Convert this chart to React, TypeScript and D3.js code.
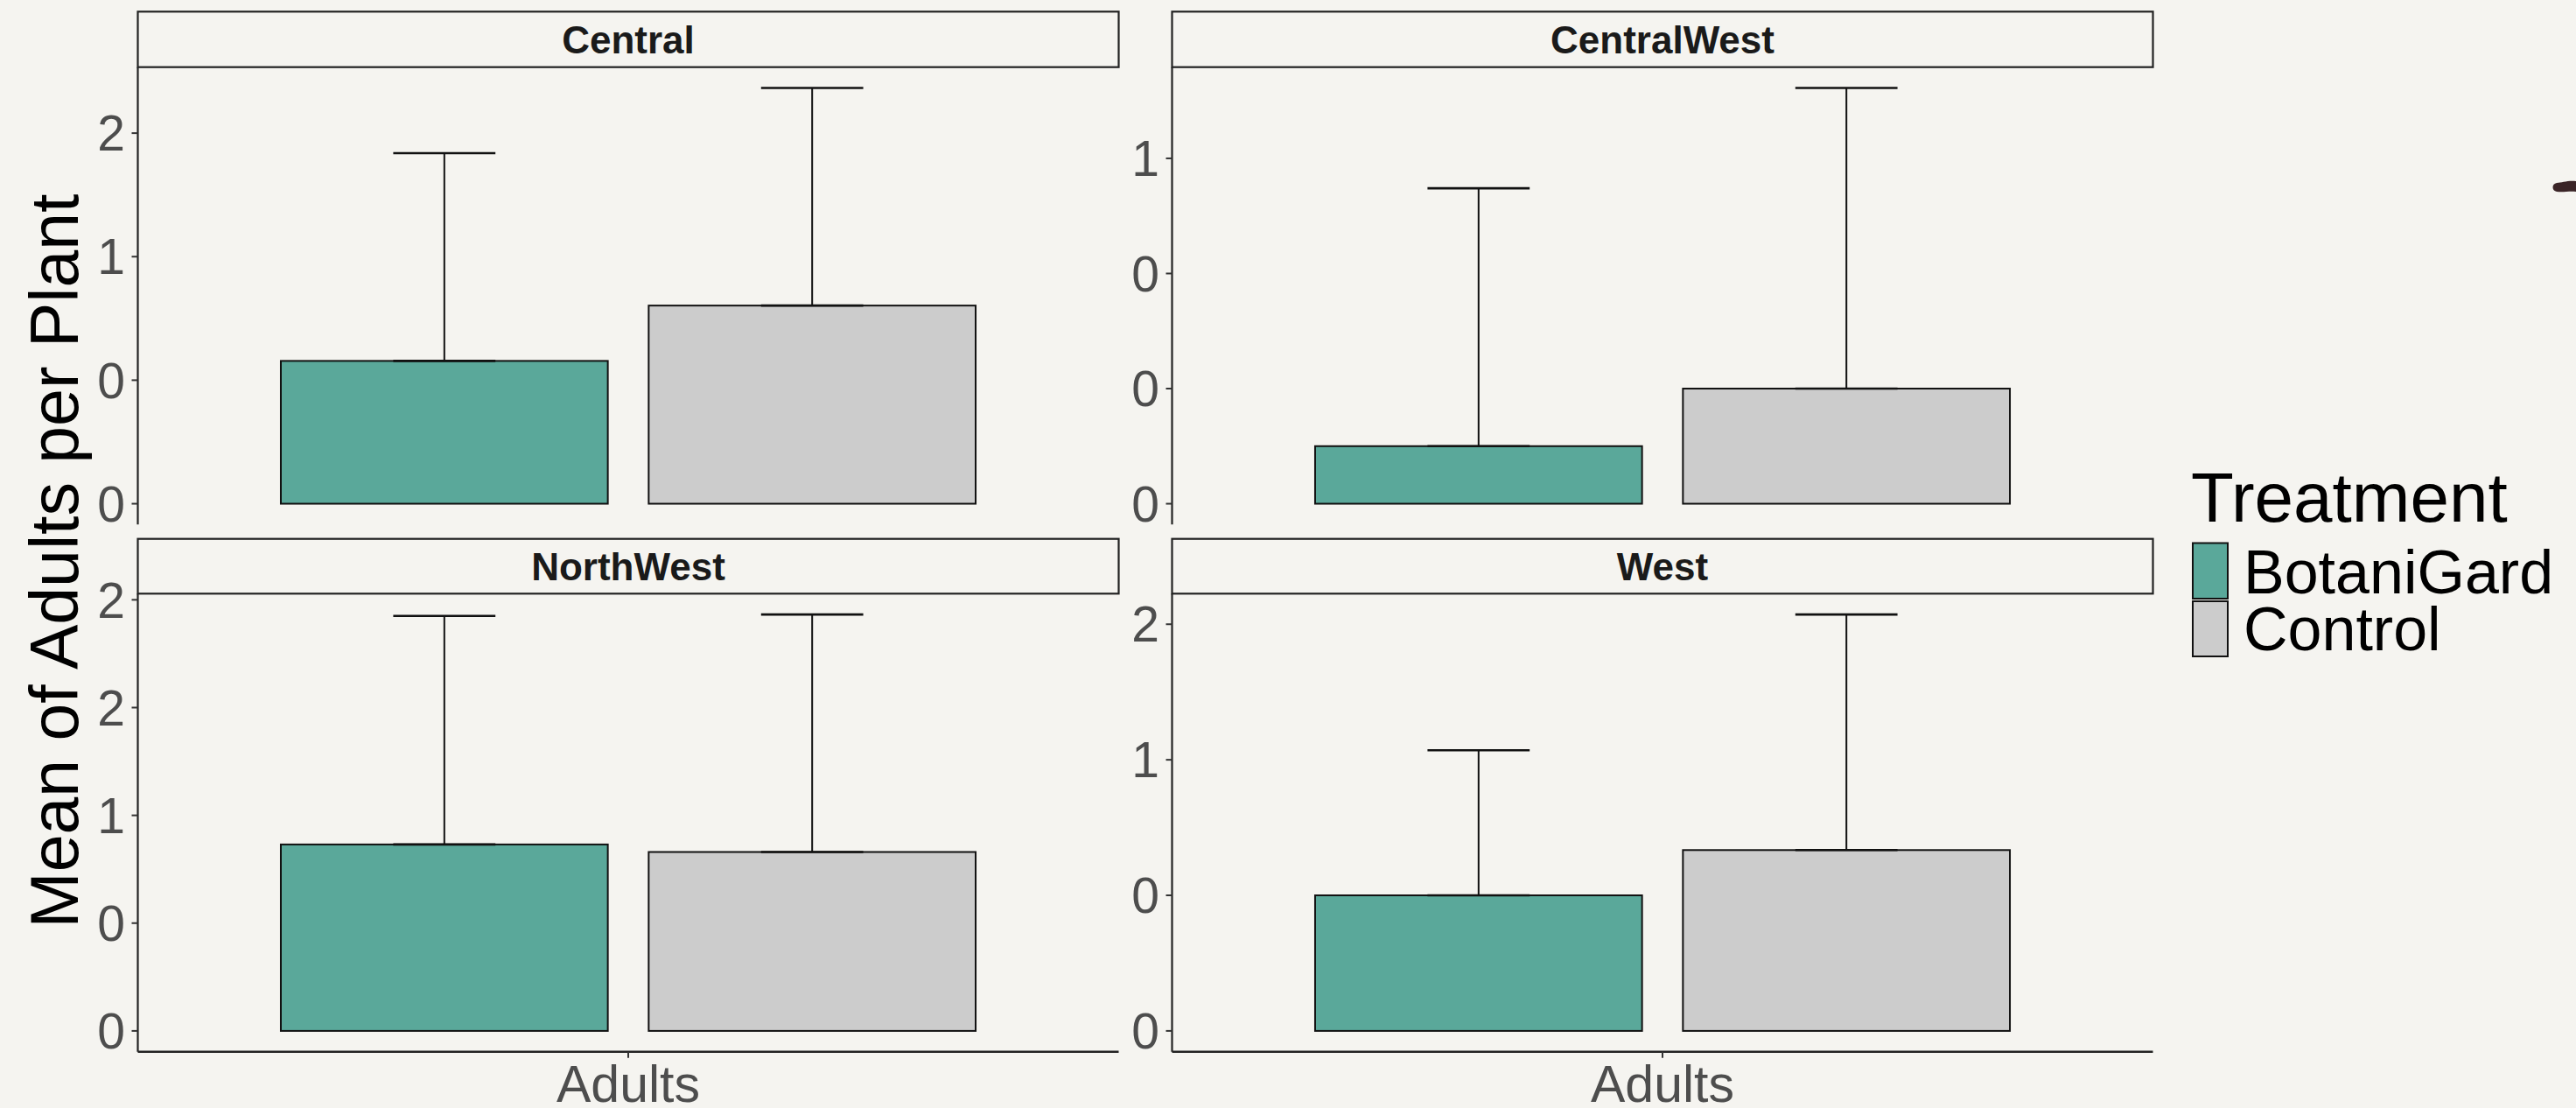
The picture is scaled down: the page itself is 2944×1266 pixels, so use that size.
import React from "react";
import * as d3 from "d3";

// Facet data: mean adults per plant (bar) and upper error limit per region
const regions = ["Central", "CentralWest", "NorthWest", "West"];
const treatments = ["BotaniGard", "Control"];
const meanBotaniGard = [0.578, 0.125, 0.865, 0.5];
const meanControl = [0.802, 0.25, 0.83, 0.667];
const upperBotaniGard = [1.419, 0.685, 1.925, 1.035];
const upperControl = [1.683, 0.903, 1.932, 1.536];
const xCategory = "Adults";

// Free y scales per facet
const yTickValues = [
  [0, 0.5, 1, 1.5],
  [0, 0.25, 0.5, 0.75],
  [0, 0.5, 1, 1.5, 2],
  [0, 0.5, 1, 1.5],
];
const yTickLabels = [
  ["0", "0", "1", "2"],
  ["0", "0", "0", "1"],
  ["0", "0", "1", "2", "2"],
  ["0", "0", "1", "2"],
];

const W = 2944;
const H = 1266;
const BG = "#F5F4F0";
const FILLS = ["#5AA89A", "#CCCCCC"];
const FONT = "'Liberation Sans', Arial, Helvetica, sans-serif";
const INK = "#1A1A1A";
const GREY = "#4D4D4D";

const cols = [
  { x0: 157.5, x1: 1278.5 },
  { x0: 1339.5, x1: 2460.5 },
];
const rows = [
  { s0: 13.3, s1: 76.7, p1: 599.3, bottom: false },
  { s0: 615.7, s1: 678.3, p1: 1201.7, bottom: true },
];

function Panel({ i }: { i: number }) {
  const col = cols[i % 2];
  const row = rows[Math.floor(i / 2)];
  const means = [meanBotaniGard[i], meanControl[i]];
  const uppers = [upperBotaniGard[i], upperControl[i]];
  const top = d3.max(uppers) as number;
  const pad = top * 0.05;

  const x = d3.scaleLinear().domain([0.4, 1.6]).range([col.x0, col.x1]);
  const y = d3.scaleLinear().domain([-pad, top + pad]).range([row.p1, row.s1]);

  const dodge = 0.225;
  const barW = 0.4;
  const capW = 0.125;
  const centers = [1 - dodge, 1 + dodge];

  return (
    <g>
      {/* strip */}
      <rect
        x={col.x0}
        y={row.s0}
        width={col.x1 - col.x0}
        height={row.s1 - row.s0}
        fill="none"
        stroke="#222"
        strokeWidth={2.2}
      />
      <text
        x={(col.x0 + col.x1) / 2}
        y={(row.s0 + row.s1) / 2 + 44 * 0.36}
        fontFamily={FONT}
        fontWeight="bold"
        fontSize={44}
        fill={INK}
        textAnchor="middle"
      >
        {regions[i]}
      </text>

      {/* bars */}
      {means.map((m, k) => (
        <rect
          key={"b" + k}
          x={x(centers[k] - barW / 2)}
          y={y(m)}
          width={x(centers[k] + barW / 2) - x(centers[k] - barW / 2)}
          height={y(0) - y(m)}
          fill={FILLS[k]}
          stroke="#111"
          strokeWidth={2}
        />
      ))}

      {/* error bars */}
      {uppers.map((u, k) => (
        <g key={"e" + k} stroke="#111" strokeWidth={2}>
          <line x1={x(centers[k])} x2={x(centers[k])} y1={y(means[k])} y2={y(u)} />
          <line
            x1={x(centers[k] - capW / 2)}
            x2={x(centers[k] + capW / 2)}
            y1={y(u)}
            y2={y(u)}
            strokeWidth={2.6}
          />
          <line
            x1={x(centers[k] - capW / 2)}
            x2={x(centers[k] + capW / 2)}
            y1={y(means[k])}
            y2={y(means[k])}
            strokeWidth={2.6}
          />
        </g>
      ))}

      {/* y axis */}
      <line x1={col.x0} x2={col.x0} y1={row.s1} y2={row.p1} stroke="#222" strokeWidth={2.2} />
      {yTickValues[i].map((t, k) => (
        <g key={"t" + k}>
          <line x1={col.x0 - 7} x2={col.x0} y1={y(t)} y2={y(t)} stroke="#333" strokeWidth={2} />
          <text
            x={col.x0 - 14.5}
            y={y(t) + 57 * 0.355}
            fontFamily={FONT}
            fontSize={57}
            fill={GREY}
            textAnchor="end"
          >
            {yTickLabels[i][k]}
          </text>
        </g>
      ))}

      {/* x axis (bottom row only) */}
      {row.bottom && (
        <g>
          <line x1={col.x0} x2={col.x1} y1={row.p1} y2={row.p1} stroke="#222" strokeWidth={2.4} />
          <line x1={x(1)} x2={x(1)} y1={row.p1} y2={row.p1 + 7} stroke="#333" strokeWidth={2} />
          <text
            x={x(1)}
            y={1258.5}
            fontFamily={FONT}
            fontSize={59}
            fill={GREY}
            textAnchor="middle"
          >
            {xCategory}
          </text>
        </g>
      )}
    </g>
  );
}

export default function App() {
  const legendKeys = [
    { y0: 620.5, y1: 684 },
    { y0: 687, y1: 750 },
  ];
  const legendBaselines = [678, 743];
  return (
    <svg
      width={W}
      height={H}
      viewBox={`0 0 ${W} ${H}`}
      style={{ position: "absolute", left: 0, top: 0, display: "block" }}
    >
      <rect x={0} y={0} width={W} height={H} fill={BG} />

      {regions.map((_, i) => (
        <Panel key={i} i={i} />
      ))}

      {/* y axis title */}
      <text
        transform={`translate(89, 641) rotate(-90)`}
        fontFamily={FONT}
        fontSize={77}
        fill="#000"
        textAnchor="middle"
      >
        Mean of Adults per Plant
      </text>

      {/* legend */}
      <text x={2504} y={595.5} fontFamily={FONT} fontSize={80} fill="#000">
        Treatment
      </text>
      {treatments.map((t, k) => (
        <g key={t}>
          <rect
            x={2506}
            y={legendKeys[k].y0}
            width={40}
            height={legendKeys[k].y1 - legendKeys[k].y0}
            fill={FILLS[k]}
            stroke="#111"
            strokeWidth={2}
          />
          <text x={2564} y={legendBaselines[k]} fontFamily={FONT} fontSize={70} fill="#000">
            {t}
          </text>
        </g>
      ))}

      {/* small dark mark at the right edge */}
      <path
        d="M2944,207 C2934,206 2928,209 2922,209 C2916,210 2916,218 2922,219 C2930,220 2936,218 2944,219 Z"
        fill="#3A2427"
      />
    </svg>
  );
}
